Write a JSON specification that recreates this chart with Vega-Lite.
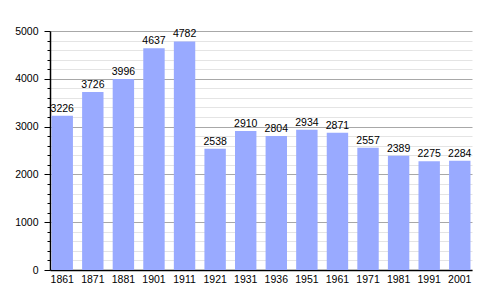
{
  "$schema": "https://vega.github.io/schema/vega-lite/v6.json",
  "autosize": "none",
  "width": 422,
  "height": 239,
  "padding": {"left": 50, "top": 31, "right": 28, "bottom": 30},
  "background": "white",
  "config": {"view": {"stroke": null}, "font": "Liberation Sans"},
  "data": {"values": [
    {"year": "1861", "pop": 3226},
    {"year": "1871", "pop": 3726},
    {"year": "1881", "pop": 3996},
    {"year": "1901", "pop": 4637},
    {"year": "1911", "pop": 4782},
    {"year": "1921", "pop": 2538},
    {"year": "1931", "pop": 2910},
    {"year": "1936", "pop": 2804},
    {"year": "1951", "pop": 2934},
    {"year": "1961", "pop": 2871},
    {"year": "1971", "pop": 2557},
    {"year": "1981", "pop": 2389},
    {"year": "1991", "pop": 2275},
    {"year": "2001", "pop": 2284}
  ]},
  "encoding": {
    "x": {"field": "year", "type": "ordinal", "sort": null,
      "scale": {"paddingInner": 0.3, "paddingOuter": 0.05},
      "axis": {"title": null, "labelAngle": 0, "ticks": false, "domainColor": "black", "domainWidth": 1.5, "labelColor": "black", "labelFontSize": 10.5, "labelPadding": 4, "grid": false}},
    "y": {"field": "pop", "type": "quantitative",
      "scale": {"domain": [0, 5000], "nice": false},
      "axis": {"title": null,
        "values": [0,200,400,600,800,1000,1200,1400,1600,1800,2000,2200,2400,2600,2800,3000,3200,3400,3600,3800,4000,4200,4400,4600,4800,5000],
        "labelExpr": "datum.value % 1000 === 0 ? datum.label : ''",
        "format": "d",
        "grid": true,
        "gridColor": {"condition": {"test": "datum.value % 1000 === 0", "value": "#a8a8a8"}, "value": "#e4e4e4"},
        "tickColor": "black",
        "tickSize": {"condition": {"test": "datum.value % 1000 === 0", "value": 6}, "value": 3},
        "domainColor": "black",
        "domainWidth": 1.5,
        "labelColor": "black",
        "labelFontSize": 10.5,
        "labelPadding": 6}}
  },
  "layer": [
    {"mark": {"type": "bar", "color": "#99aaff"}},
    {"mark": {"type": "text", "baseline": "alphabetic", "dy": -4, "fontSize": 10.5, "color": "black"},
     "encoding": {"text": {"field": "pop", "type": "quantitative", "format": "d"}}}
  ]
}
